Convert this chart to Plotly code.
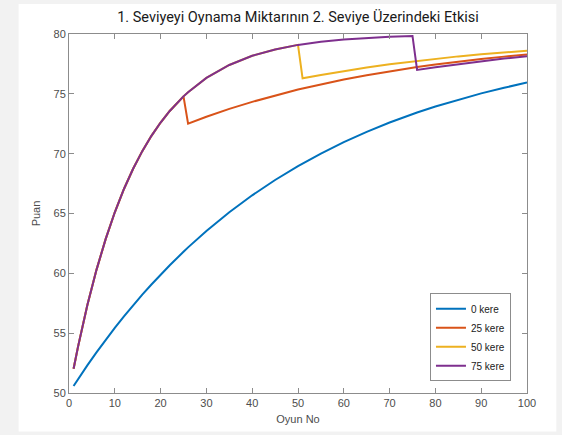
import plotly.graph_objects as go

# Oyun numaraları (ortak x ekseni)
games = [1, 2, 4, 6, 8, 10, 12, 14, 16, 18, 20, 22, 25, 26, 30, 35, 40, 45, 50,
         51, 55, 60, 65, 70, 75, 76, 80, 85, 90, 95, 100]

kere_0 = [50.59, 51.18, 52.31, 53.39, 54.44, 55.44, 56.40, 57.33, 58.22, 59.07, 59.89,
          60.68, 61.80, 62.17, 63.54, 65.10, 66.52, 67.80, 68.96,
          69.18, 70.01, 70.96, 71.82, 72.60, 73.31, 73.44, 73.94, 74.52, 75.04, 75.51, 75.94]

kere_25 = [52.03, 53.92, 57.33, 60.29, 62.86, 65.10, 67.05, 68.74, 70.21, 71.49, 72.60,
           73.57, 74.79, 72.50, 73.08, 73.74, 74.33, 74.87, 75.36,
           75.45, 75.80, 76.20, 76.56, 76.89, 77.19, 77.24, 77.45, 77.70, 77.91, 78.11, 78.29]

kere_50 = [52.03, 53.92, 57.33, 60.29, 62.86, 65.10, 67.05, 68.74, 70.21, 71.49, 72.60,
           73.57, 74.79, 75.14, 76.33, 77.41, 78.18, 78.71, 79.09,
           76.30, 76.58, 76.91, 77.20, 77.47, 77.71, 77.76, 77.93, 78.13, 78.30, 78.47, 78.61]

kere_75 = [52.03, 53.92, 57.33, 60.29, 62.86, 65.10, 67.05, 68.74, 70.21, 71.49, 72.60,
           73.57, 74.79, 75.14, 76.33, 77.41, 78.18, 78.71, 79.09,
           79.15, 79.36, 79.55, 79.68, 79.78, 79.84, 77.00, 77.23, 77.49, 77.73, 77.95, 78.14]

series_names = ["0 kere", "25 kere", "50 kere", "75 kere"]
series_values = [kere_0, kere_25, kere_50, kere_75]
colors = ["#0072BD", "#D95319", "#EDB120", "#7E2F8E"]

x_ticks = [0, 10, 20, 30, 40, 50, 60, 70, 80, 90, 100]
y_ticks = [50, 55, 60, 65, 70, 75, 80]

fig = go.Figure()
for name, vals, col in zip(series_names, series_values, colors):
    fig.add_trace(go.Scatter(x=games, y=vals, mode="lines", name=name,
                             line=dict(color=col, width=2)))

label_font = dict(family="Liberation Sans", size=11, color="#4d4d4d")
axis_common = dict(showgrid=False, zeroline=False, showline=True, linecolor="#8c8c8c",
                   linewidth=1, mirror="ticks", ticks="inside", ticklen=5,
                   tickcolor="#8c8c8c", tickfont=label_font)

fig.update_xaxes(range=[0, 100], tickvals=x_ticks, **axis_common,
                 title=dict(text="Oyun No", font=label_font, standoff=7))
fig.update_yaxes(range=[50, 80], tickvals=y_ticks, **axis_common,
                 title=dict(text="Puan", font=label_font, standoff=10))

fig.add_shape(type="rect", xref="paper", yref="paper", x0=-0.110, x1=1.064, y0=-0.107, y1=1.0837,
              fillcolor="white", line=dict(width=0), layer="below")

fig.update_layout(
    width=562, height=435,
    margin=dict(l=69, r=35, t=34, b=42),
    paper_bgcolor="#f2f2f2", plot_bgcolor="white",
    title=dict(text="1. Seviyeyi Oynama Miktarının 2. Seviye Üzerindeki Etkisi",
               x=0.5, xref="paper", xanchor="center", y=0.96, yanchor="middle",
               font=dict(family="Roboto", size=14.5, color="#1a1a1a")),
    legend=dict(x=0.965, y=0.155, xanchor="right", yanchor="middle",
                bgcolor="white", bordercolor="#8c8c8c", borderwidth=1,
                font=dict(family="Liberation Sans", size=10, color="#1a1a1a"),
                tracegroupgap=0, itemwidth=30),
    showlegend=True,
)

fig.write_html("out.html", config={"displayModeBar": False},
               post_script="document.body.style.margin='0';document.body.style.background='#f2f2f2';")
